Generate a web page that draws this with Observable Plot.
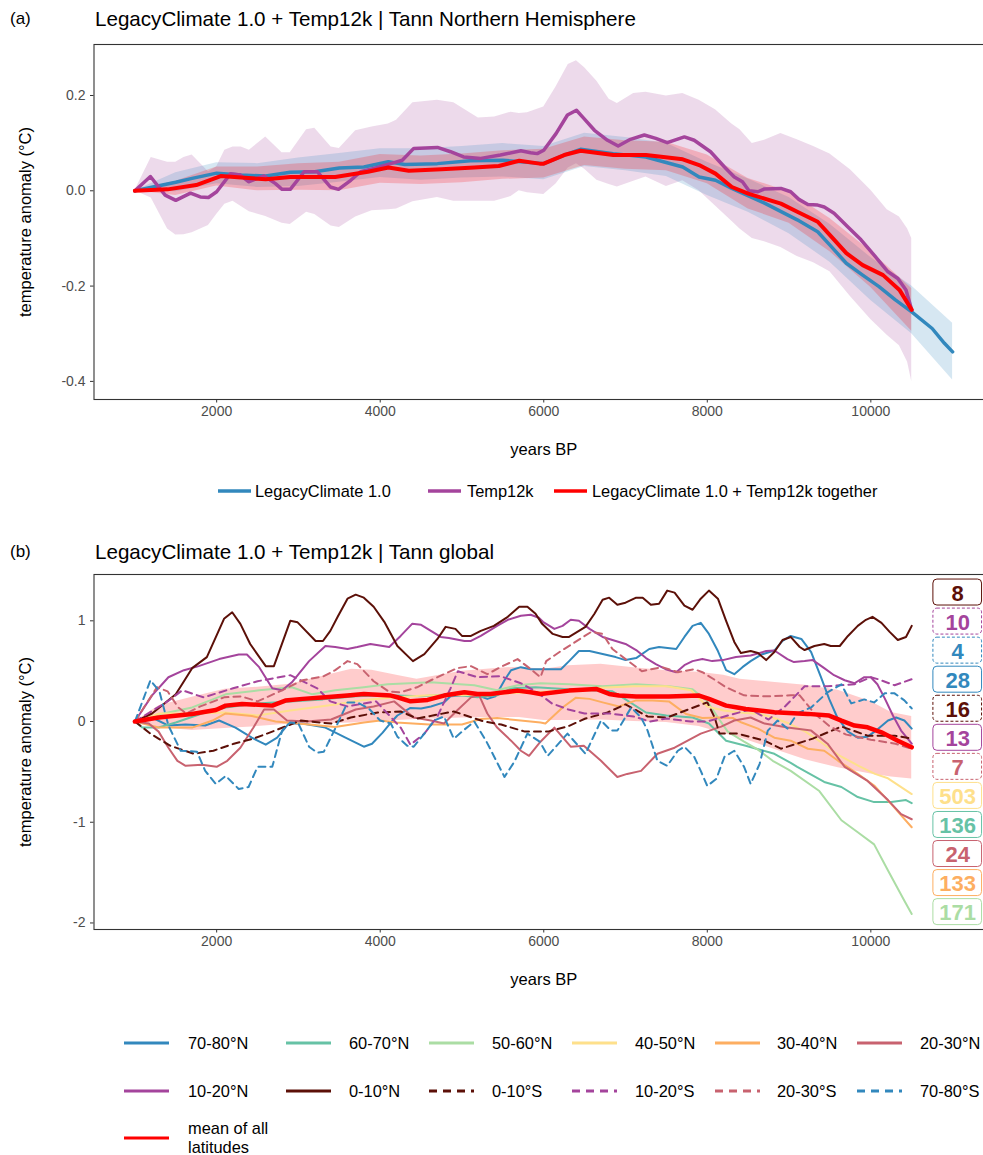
<!DOCTYPE html>
<html><head><meta charset="utf-8">
<script src="https://cdn.jsdelivr.net/npm/d3@7"></script>
<script src="https://cdn.jsdelivr.net/npm/@observablehq/plot@0.6"></script>
<style>
body{margin:0;background:#fff;}
#fig{position:relative;width:983px;height:1155px;overflow:hidden;font-family:"Liberation Sans",Arial,sans-serif;color:#000;background:#fff;}
.abs{position:absolute;white-space:nowrap;line-height:1;}
.tag{font-size:17px;}
.title{font-size:20.6px;}
.lt{font-size:16.4px;color:#000;}
svg.sw{position:absolute;overflow:visible;}
</style></head><body><div id="fig"></div>
<script>
// ---------------- Panel (a) data ----------------
const legacyLine = [[1000,0],[1500,0.018],[1700,0.026],[2000,0.037],[2300,0.033],[2600,0.031],[2900,0.039],[3200,0.04],[3500,0.048],[3800,0.05],[4100,0.061],[4300,0.055],[4700,0.057],[5100,0.063],[5500,0.064],[6000,0.057],[6250,0.075],[6450,0.087],[6850,0.078],[7250,0.071],[7700,0.05],[7900,0.029],[8100,0.022],[8300,0.005],[8700,-0.026],[9100,-0.061],[9350,-0.086],[9500,-0.114],[9700,-0.152],[9900,-0.177],[10100,-0.201],[10300,-0.229],[10500,-0.254],[10750,-0.289],[10900,-0.32],[11000,-0.338]];
const legacyBandYears = [1000,1500,2000,2500,3000,3500,4000,4500,5000,5500,6000,6500,7000,7500,8000,8500,9000,9500,10000,10500,11000];
const legacyBandLow = [0,-0.002,0.015,0.007,0.009,0.018,0.028,0.022,0.027,0.029,0.023,0.051,0.042,0.03,-0.01,-0.045,-0.09,-0.15,-0.23,-0.3,-0.397];
const legacyBandHigh = [0,0.038,0.059,0.057,0.069,0.078,0.088,0.088,0.093,0.099,0.093,0.121,0.112,0.1,0.06,0.025,-0.014,-0.07,-0.14,-0.2,-0.278];

const temp12kLine = [[1000,0],[1190,0.03],[1370,-0.009],[1500,-0.02],[1680,-0.005],[1800,-0.013],[1900,-0.014],[2000,-0.002],[2170,0.036],[2290,0.033],[2390,0.019],[2580,0.031],[2720,0.015],[2800,0.003],[2900,0.003],[3070,0.04],[3230,0.04],[3390,0.008],[3490,0.003],[3640,0.022],[3760,0.04],[3920,0.047],[4130,0.057],[4270,0.064],[4410,0.089],[4700,0.091],[4860,0.082],[5020,0.071],[5230,0.068],[5470,0.075],[5720,0.084],[5840,0.08],[5920,0.078],[6000,0.085],[6150,0.12],[6290,0.159],[6400,0.169],[6490,0.152],[6620,0.127],[6780,0.106],[6910,0.094],[7060,0.108],[7230,0.117],[7370,0.11],[7510,0.101],[7720,0.113],[7840,0.106],[8040,0.082],[8210,0.05],[8330,0.029],[8430,0.019],[8510,0.0],[8620,-0.002],[8700,0.004],[8900,0.005],[9020,-0.002],[9120,-0.018],[9230,-0.029],[9350,-0.03],[9430,-0.034],[9550,-0.047],[9720,-0.076],[9880,-0.103],[10040,-0.135],[10210,-0.17],[10330,-0.184],[10430,-0.208],[10500,-0.25]];
const temp12kBandYears = [1000,1200,1400,1500,1600,1700,1900,2000,2100,2200,2300,2400,2600,2800,2900,3100,3200,3400,3500,3700,3900,4100,4200,4400,4700,4900,5200,5400,5600,5700,5800,6000,6150,6300,6400,6500,6650,6800,6900,7100,7250,7500,7700,7900,8100,8300,8400,8550,8700,8900,9100,9300,9500,9750,10000,10200,10350,10450,10500];
const temp12kBandHigh = [0,0.07,0.06,0.06,0.07,0.075,0.04,0.05,0.085,0.092,0.092,0.085,0.113,0.08,0.08,0.128,0.131,0.092,0.089,0.126,0.134,0.14,0.148,0.185,0.19,0.185,0.153,0.155,0.165,0.162,0.164,0.176,0.218,0.265,0.273,0.258,0.23,0.192,0.183,0.204,0.207,0.199,0.204,0.19,0.17,0.14,0.128,0.099,0.106,0.12,0.107,0.093,0.077,0.044,0.001,-0.04,-0.055,-0.08,-0.1];
const temp12kBandLow = [0,-0.015,-0.08,-0.093,-0.092,-0.088,-0.073,-0.05,-0.028,-0.022,-0.033,-0.044,-0.054,-0.068,-0.071,-0.045,-0.05,-0.074,-0.077,-0.055,-0.042,-0.04,-0.038,-0.023,-0.014,-0.022,-0.022,-0.022,-0.012,0,-0.004,-0.008,0.014,0.048,0.057,0.045,0.022,0.013,0.008,0.02,0.029,0.009,0.021,0.0,-0.032,-0.064,-0.08,-0.1,-0.107,-0.119,-0.138,-0.151,-0.17,-0.222,-0.27,-0.303,-0.325,-0.36,-0.4];

const togetherLine = [[1000,0],[1400,0.003],[1750,0.012],[2050,0.031],[2300,0.028],[2600,0.024],[2900,0.029],[3450,0.029],[3850,0.04],[4100,0.049],[4350,0.042],[4750,0.045],[5150,0.049],[5450,0.052],[5700,0.063],[5950,0.057],[6000,0.057],[6250,0.075],[6450,0.084],[6850,0.075],[7250,0.075],[7700,0.066],[7900,0.054],[8100,0.036],[8300,0.008],[8500,-0.006],[8900,-0.027],[9100,-0.044],[9350,-0.065],[9500,-0.093],[9700,-0.131],[9900,-0.156],[10150,-0.177],[10350,-0.208],[10500,-0.25]];
const togetherBandYears = [1000,1500,2000,2500,3000,3500,4000,4500,5000,5500,6000,6500,7000,7500,8000,8500,9000,9500,10000,10500];
const togetherBandLow = [0,-0.01,0.01,0.0,0.001,0.0,0.016,0.013,0.017,0.024,0.027,0.053,0.045,0.042,0.015,-0.038,-0.068,-0.128,-0.203,-0.295];
const togetherBandHigh = [0,0.02,0.05,0.05,0.057,0.06,0.076,0.073,0.077,0.084,0.087,0.113,0.105,0.102,0.075,0.026,-0.002,-0.058,-0.127,-0.205];

const seriesA = ["LegacyClimate 1.0", "Temp12k", "LegacyClimate 1.0 + Temp12k together"];
const colorsA = ["#3288bd", "#a4449c", "#ff0000"];

// ---------------- Panel (b) data ----------------
const regions = ["70-80°N","60-70°N","50-60°N","40-50°N","30-40°N","20-30°N","10-20°N","0-10°N","0-10°S","10-20°S","20-30°S","70-80°S"];
const regionColors = ["#3288bd","#66c2a5","#abdda4","#fee08b","#fdae61","#c8626f","#a4449c","#5c1008","#5c1008","#a4449c","#c8626f","#3288bd"];
const regionDashed = [false,false,false,false,false,false,false,false,true,true,true,true];
const regionCounts = [28,136,171,503,133,24,13,8,16,10,7,4];

const lat7080N = [[1000,0],[1210,0.04],[1410,-0.04],[1620,-0.03],[1860,-0.04],[2030,0.01],[2230,-0.06],[2430,-0.16],[2600,-0.23],[2740,-0.16],[2880,-0.02],[3050,-0.02],[3330,-0.06],[3600,-0.17],[3800,-0.25],[3900,-0.22],[4030,-0.11],[4130,-0.01],[4210,0.06],[4370,0.135],[4500,0.13],[4620,0.15],[4780,0.19],[4860,0.25],[5030,0.26],[5190,0.26],[5310,0.225],[5410,0.25],[5520,0.41],[5600,0.51],[5720,0.54],[5840,0.52],[6070,0.52],[6210,0.52],[6310,0.6],[6430,0.7],[6560,0.7],[6720,0.67],[6880,0.64],[7000,0.61],[7130,0.63],[7290,0.72],[7410,0.74],[7620,0.72],[7720,0.84],[7820,0.95],[7920,0.98],[8020,0.87],[8130,0.7],[8230,0.51],[8330,0.47],[8430,0.54],[8530,0.6],[8660,0.665],[8820,0.705],[8920,0.8],[9020,0.85],[9150,0.82],[9270,0.69],[9390,0.44],[9490,0.225],[9590,0.04],[9720,-0.1],[9840,-0.16],[9960,-0.15],[10080,-0.08],[10210,0.01],[10310,0.04],[10410,0.01],[10500,-0.07]];
const lat6070N = [[1000,0],[1090,-0.06],[1290,-0.06],[1500,-0.01],[1820,0.08],[2110,0.14],[2500,0.18],[2900,0.2],[3300,0.22],[3700,0.25],[4100,0.26],[4500,0.25],[4860,0.27],[5190,0.24],[5430,0.26],[5600,0.33],[5900,0.34],[6300,0.32],[6840,0.3],[7000,0.22],[7250,0.09],[7500,0.06],[7820,0.04],[8020,-0.02],[8230,-0.19],[8470,-0.24],[8820,-0.32],[9020,-0.41],[9100,-0.45],[9430,-0.6],[9640,-0.65],[9840,-0.75],[10040,-0.8],[10250,-0.8],[10430,-0.78],[10500,-0.81]];
const lat5060N = [[1000,0],[1290,0.07],[1700,0.14],[2110,0.27],[2520,0.31],[2920,0.34],[3170,0.27],[3450,0.31],[3800,0.34],[4090,0.37],[4620,0.39],[5150,0.36],[5430,0.31],[5680,0.36],[5960,0.38],[6310,0.37],[6720,0.35],[7130,0.37],[7530,0.35],[7820,0.32],[8000,0.2],[8130,0.04],[8250,-0.1],[8450,-0.2],[8620,-0.28],[8800,-0.39],[9020,-0.49],[9370,-0.69],[9640,-0.98],[9840,-1.1],[10040,-1.22],[10210,-1.48],[10410,-1.78],[10500,-1.91]];
const lat4050N = [[1000,0],[1300,0.08],[1700,0.08],[2100,0.09],[2500,0.06],[2900,0.11],[3450,0.17],[3800,0.215],[4200,0.24],[4600,0.26],[5000,0.26],[5400,0.275],[5900,0.29],[6300,0.31],[6700,0.335],[7100,0.35],[7500,0.35],[7800,0.31],[8000,0.15],[8200,0.11],[8400,0.09],[8650,0.075],[8800,0.04],[9000,-0.02],[9200,-0.1],[9400,-0.21],[9600,-0.33],[9850,-0.44],[10050,-0.52],[10200,-0.56],[10500,-0.72]];
const lat3040N = [[1000,0],[1290,-0.06],[1700,-0.06],[1950,0.01],[2110,0.08],[2430,0.055],[2720,0.0],[3130,-0.03],[3450,-0.055],[3800,-0.01],[4000,0.01],[4200,-0.01],[4600,-0.03],[5000,-0.03],[5230,0.025],[5430,0.035],[5960,-0.01],[6020,-0.02],[6230,0.14],[6390,0.235],[6560,0.225],[6720,0.19],[6920,0.15],[7130,0.21],[7330,0.21],[7530,0.2],[7740,0.075],[7940,0.035],[8150,0.04],[8310,0.035],[8420,-0.01],[8620,-0.07],[8820,-0.16],[9020,-0.19],[9230,-0.27],[9430,-0.29],[9600,-0.39],[9840,-0.52],[10040,-0.635],[10250,-0.82],[10500,-1.05]];
const lat2030N = [[1000,0],[1170,-0.02],[1290,-0.1],[1410,-0.26],[1520,-0.39],[1620,-0.44],[1820,-0.43],[2000,-0.45],[2130,-0.39],[2290,-0.26],[2450,-0.06],[2580,0.12],[2700,0.12],[2860,0.01],[3100,0.0],[3400,0.02],[3700,0.12],[3920,0.15],[4170,0.2],[4410,0.04],[4620,0.01],[4780,-0.02],[4940,0.11],[5110,0.24],[5210,0.26],[5310,0.08],[5430,-0.06],[5600,-0.19],[5720,-0.29],[5820,-0.34],[5960,-0.2],[6130,-0.06],[6330,-0.25],[6490,-0.24],[6700,-0.39],[6900,-0.55],[7020,-0.52],[7190,-0.49],[7390,-0.32],[7600,-0.26],[7760,-0.19],[7920,-0.12],[8170,-0.05],[8330,0.01],[8530,0.04],[8700,-0.02],[8980,-0.06],[9270,-0.09],[9470,-0.22],[9680,-0.45],[9960,-0.59],[10210,-0.78],[10370,-0.92],[10500,-0.97]];
const lat1020N = [[1000,0],[1210,0.26],[1410,0.44],[1600,0.51],[1780,0.55],[2030,0.62],[2270,0.665],[2370,0.665],[2520,0.54],[2680,0.33],[2800,0.31],[2920,0.39],[3130,0.6],[3330,0.75],[3450,0.74],[3600,0.72],[3720,0.74],[3880,0.77],[4110,0.74],[4250,0.85],[4390,0.97],[4500,0.96],[4620,0.9],[4740,0.84],[4840,0.83],[5030,0.8],[5110,0.8],[5230,0.85],[5430,0.95],[5560,1.01],[5720,1.05],[5840,1.06],[5940,1.03],[5990,0.99],[6130,0.92],[6230,0.95],[6330,1.01],[6430,1.0],[6560,0.92],[6720,0.84],[6880,0.8],[7000,0.77],[7130,0.71],[7250,0.63],[7370,0.57],[7490,0.52],[7620,0.49],[7720,0.56],[7820,0.6],[7940,0.62],[8060,0.6],[8190,0.61],[8350,0.64],[8530,0.655],[8720,0.7],[8820,0.705],[8980,0.62],[9060,0.59],[9190,0.6],[9290,0.61],[9430,0.53],[9550,0.46],[9680,0.41],[9800,0.38],[9920,0.44],[10000,0.44],[10080,0.37],[10170,0.23],[10270,0.06],[10370,-0.09],[10450,-0.17],[10500,-0.22]];
const lat010N = [[1000,0],[1210,0.08],[1500,0.27],[1700,0.53],[1880,0.64],[2090,1.02],[2190,1.085],[2290,0.97],[2410,0.77],[2600,0.55],[2700,0.55],[2900,1.0],[2990,0.985],[3210,0.8],[3300,0.8],[3390,0.9],[3480,1.04],[3600,1.22],[3700,1.26],[3800,1.23],[3920,1.14],[4050,0.99],[4210,0.75],[4400,0.6],[4540,0.67],[4700,0.82],[4800,0.94],[4920,0.92],[5000,0.85],[5110,0.85],[5230,0.9],[5390,0.95],[5560,1.04],[5700,1.14],[5800,1.14],[5900,1.07],[5980,0.97],[6110,0.87],[6230,0.84],[6310,0.84],[6510,0.94],[6620,1.07],[6720,1.21],[6800,1.23],[6900,1.16],[7000,1.18],[7130,1.23],[7210,1.23],[7310,1.16],[7410,1.17],[7510,1.3],[7600,1.28],[7720,1.15],[7820,1.11],[7920,1.22],[8020,1.3],[8130,1.22],[8230,1.0],[8330,0.79],[8410,0.68],[8530,0.7],[8620,0.68],[8720,0.61],[8820,0.69],[8920,0.81],[9020,0.84],[9130,0.74],[9190,0.71],[9310,0.75],[9430,0.77],[9510,0.75],[9620,0.75],[9720,0.85],[9840,0.95],[9940,1.01],[10020,1.04],[10130,0.98],[10230,0.89],[10330,0.81],[10430,0.84],[10500,0.95]];
const lat010S = [[1000,0],[1190,-0.12],[1430,-0.24],[1720,-0.32],[1960,-0.29],[2210,-0.22],[2450,-0.17],[2680,-0.1],[3030,0.01],[3400,-0.02],[3640,0.04],[3970,0.09],[4250,0.1],[4450,0.03],[4900,0.1],[5270,0.0],[5480,-0.03],[5770,-0.1],[6050,-0.1],[6290,-0.05],[6510,0.03],[6780,0.09],[7000,0.17],[7270,0.05],[7510,0.04],[7800,0.13],[8000,0.19],[8090,0.04],[8150,-0.12],[8370,-0.12],[8700,-0.19],[8900,-0.27],[9290,-0.17],[9640,-0.05],[9960,-0.14],[10290,-0.14],[10500,-0.17]];
const lat1020S = [[1000,0],[1200,0.1],[1400,0.2],[1580,0.31],[1840,0.24],[2200,0.33],[2500,0.4],[2900,0.46],[3230,0.33],[3390,0.2],[3600,0.15],[3950,0.2],[4250,-0.06],[4370,-0.23],[4540,-0.12],[4700,0.05],[4860,0.33],[4950,0.5],[5190,0.44],[5470,0.45],[5720,0.38],[5900,0.3],[6100,0.18],[6300,0.12],[6500,0.08],[6800,0.08],[7100,0.05],[7300,0.0],[7500,0.03],[7800,0.0],[8000,0.0],[8250,0.06],[8530,0.12],[8750,0.02],[8950,0.15],[9190,0.35],[9470,0.35],[9800,0.37],[10000,0.44],[10090,0.42],[10290,0.36],[10500,0.42]];
const lat2030S = [[1000,0],[1270,0.34],[1400,0.3],[1530,0.14],[1630,0.08],[1800,0.15],[2090,0.24],[2300,0.25],[2500,0.2],[2800,0.31],[3050,0.41],[3310,0.45],[3450,0.51],[3600,0.6],[3720,0.57],[3920,0.4],[4100,0.3],[4250,0.29],[4450,0.34],[4620,0.41],[4940,0.53],[5110,0.55],[5310,0.47],[5470,0.54],[5680,0.62],[5840,0.52],[5960,0.44],[6030,0.6],[6210,0.7],[6580,0.89],[6720,0.87],[6840,0.72],[7000,0.62],[7200,0.5],[7450,0.54],[7640,0.49],[7840,0.52],[7940,0.49],[8100,0.41],[8230,0.34],[8450,0.26],[8740,0.25],[9020,0.26],[9130,0.26],[9310,0.08],[9500,-0.05],[9700,-0.13],[10000,-0.18],[10300,-0.22],[10500,-0.27]];
const lat7080S = [[1000,0],[1190,0.41],[1300,0.3],[1410,-0.04],[1560,-0.29],[1760,-0.3],[1860,-0.49],[1990,-0.62],[2110,-0.54],[2270,-0.67],[2390,-0.65],[2500,-0.45],[2680,-0.45],[2800,-0.09],[2900,-0.01],[3000,-0.02],[3130,-0.25],[3230,-0.31],[3310,-0.3],[3450,-0.07],[3600,0.19],[3720,0.19],[3860,0.13],[4000,0.01],[4130,-0.02],[4210,-0.15],[4330,-0.24],[4410,-0.25],[4540,-0.12],[4660,0.01],[4780,0.05],[4900,-0.17],[5030,-0.08],[5150,0.0],[5300,-0.2],[5520,-0.55],[5640,-0.4],[5800,-0.12],[5950,-0.2],[6050,-0.34],[6290,-0.12],[6510,-0.32],[6700,0.01],[6820,-0.09],[6900,-0.09],[7070,0.14],[7190,0.04],[7270,-0.09],[7390,-0.39],[7510,-0.44],[7640,-0.29],[7720,-0.25],[7840,-0.35],[7920,-0.49],[8000,-0.64],[8110,-0.57],[8210,-0.35],[8330,-0.29],[8450,-0.45],[8530,-0.62],[8640,-0.42],[8740,-0.09],[8860,0.01],[8980,-0.07],[9100,0.08],[9270,0.14],[9470,0.29],[9640,0.37],[9760,0.18],[9920,0.22],[10040,0.19],[10170,0.28],[10290,0.28],[10410,0.21],[10500,0.13]];
const regionSeries = [lat7080N,lat6070N,lat5060N,lat4050N,lat3040N,lat2030N,lat1020N,lat010N,lat010S,lat1020S,lat2030S,lat7080S];

const meanLine = [[1000,0],[1290,0.04],[1700,0.075],[1990,0.115],[2110,0.158],[2310,0.175],[2680,0.158],[2840,0.208],[3050,0.225],[3330,0.24],[3600,0.258],[3800,0.274],[4130,0.258],[4210,0.241],[4370,0.201],[4580,0.215],[4780,0.258],[5030,0.29],[5190,0.274],[5350,0.274],[5520,0.29],[5680,0.307],[5840,0.29],[5960,0.274],[6310,0.307],[6640,0.324],[6800,0.274],[6920,0.258],[7130,0.248],[7530,0.248],[7900,0.258],[8020,0.225],[8230,0.158],[8350,0.142],[8470,0.125],[8820,0.092],[9230,0.076],[9490,0.059],[9640,0.009],[9800,-0.04],[9960,-0.057],[10130,-0.107],[10330,-0.19],[10500,-0.256]];
const meanBandYears = [1000,1300,1700,2100,2500,2900,3400,3650,3900,4200,4450,5000,5450,5700,6000,6300,6700,7100,7500,7900,8200,8400,8800,9200,9600,10000,10250,10500];
const meanBandHigh = [0,0.16,0.24,0.32,0.34,0.37,0.47,0.52,0.51,0.46,0.42,0.5,0.53,0.54,0.52,0.555,0.57,0.535,0.505,0.49,0.46,0.42,0.39,0.36,0.31,0.2,0.09,0.05];
const meanBandLow = [0,-0.06,-0.09,-0.07,-0.05,-0.025,-0.02,-0.015,0.0,0.01,0.02,0.035,0.04,0.04,0.01,0.01,0.015,0.0,-0.01,-0.05,-0.12,-0.16,-0.27,-0.38,-0.46,-0.52,-0.55,-0.57];

const xTicks = [2000,4000,6000,8000,10000];
const yTicksA = [-0.4,-0.2,0,0.2];
const yTicksB = [-2,-1,0,1];

// ---------------- helpers ----------------
const toRows = (pairs, key) => pairs.map(([x, y]) => ({key, x, y}));
const bandRows = (years, lo, hi) => years.map((x, i) => ({x, lo: lo[i], hi: hi[i]}));
const FONT = '"Liberation Sans", Arial, sans-serif';

function panel(yDomain, yTicks, fmt, marks) {
  const svg = Plot.plot({
    width: 993, height: 424,
    marginLeft: 93.5, marginRight: 0, marginTop: 4, marginBottom: 65,
    x: {domain: [500, 11500]},
    y: {domain: yDomain},
    color: {type: "identity"},
    style: {fontFamily: FONT, fontSize: "14px", color: "#4d4d4d", background: "transparent", overflow: "visible"},
    marks: [
      ...marks,
      Plot.frame({stroke: "#333333", strokeWidth: 1.1}),
      Plot.axisX({ticks: xTicks, tickFormat: d3.format("d"), tickSize: 3.5, tickPadding: 3, label: null, stroke: "#333333", fill: "#4d4d4d", fontSize: 14}),
      Plot.axisY({ticks: yTicks, tickFormat: fmt, tickSize: 3.5, tickPadding: 5, label: null, stroke: "#333333", fill: "#4d4d4d", fontSize: 14}),
      Plot.text(["years BP"], {frameAnchor: "bottom", dy: 55, fill: "black", fontSize: 16.5, textAnchor: "middle"}),
      Plot.text(["temperature anomaly (°C)"], {frameAnchor: "left", dx: -68.5, rotate: -90, fill: "black", fontSize: 16.5, textAnchor: "middle", lineAnchor: "middle"})
    ]
  });
  svg.style.maxWidth = "none";
  svg.style.width = "993px";
  svg.style.height = "424px";
  svg.style.position = "absolute";
  svg.style.left = "0px";
  return svg;
}

const fig = document.getElementById("fig");
function addText(txt, left, top, cls) {
  const d = document.createElement("div");
  d.className = "abs " + cls; d.textContent = txt;
  d.style.left = left + "px"; d.style.top = top + "px";
  fig.appendChild(d); return d;
}
function addSwatch(left, cy, w, color, width, dash) {
  const ns = "http://www.w3.org/2000/svg";
  const s = document.createElementNS(ns, "svg");
  s.setAttribute("class", "sw"); s.setAttribute("width", w); s.setAttribute("height", 10);
  s.style.left = left + "px"; s.style.top = (cy - 5) + "px";
  const l = document.createElementNS(ns, "line");
  l.setAttribute("x1", 0); l.setAttribute("x2", w); l.setAttribute("y1", 5); l.setAttribute("y2", 5);
  l.setAttribute("stroke", color); l.setAttribute("stroke-width", width);
  if (dash) l.setAttribute("stroke-dasharray", dash);
  s.appendChild(l); fig.appendChild(s);
}

// ---------------- Panel (a) ----------------
addText("(a)", 10, 10, "tag");
addText("LegacyClimate 1.0 + Temp12k | Tann Northern Hemisphere", 95, 9, "title");

const plotA = panel([-0.438, 0.307], yTicksA, d => d.toFixed(1), [
  Plot.areaY(bandRows(temp12kBandYears, temp12kBandLow, temp12kBandHigh), {x: "x", y1: "lo", y2: "hi", fill: colorsA[1], fillOpacity: 0.2}),
  Plot.areaY(bandRows(legacyBandYears, legacyBandLow, legacyBandHigh), {x: "x", y1: "lo", y2: "hi", fill: colorsA[0], fillOpacity: 0.2}),
  Plot.areaY(bandRows(togetherBandYears, togetherBandLow, togetherBandHigh), {x: "x", y1: "lo", y2: "hi", fill: colorsA[2], fillOpacity: 0.2}),
  Plot.line(toRows(legacyLine, seriesA[0]), {x: "x", y: "y", stroke: colorsA[0], strokeWidth: 3.5}),
  Plot.line(toRows(temp12kLine, seriesA[1]), {x: "x", y: "y", stroke: colorsA[1], strokeWidth: 3.5}),
  Plot.line(toRows(togetherLine, seriesA[2]), {x: "x", y: "y", stroke: colorsA[2], strokeWidth: 4})
]);
plotA.style.top = "40px";
fig.appendChild(plotA);

const legA = [[218, 255], [428, 467], [554, 592]];
seriesA.forEach((s, i) => {
  addSwatch(legA[i][0], 491, 33, colorsA[i], 3.5, null);
  addText(s, legA[i][1], 483, "lt");
});

// ---------------- Panel (b) ----------------
addText("(b)", 10, 543, "tag");
addText("LegacyClimate 1.0 + Temp12k | Tann global", 95, 542, "title");

const regionRows = regions.flatMap((r, i) => toRows(regionSeries[i], r).map(d => ({...d, color: regionColors[i], dashed: regionDashed[i]})));
const lastVals = regions.map((r, i) => ({r, i, last: regionSeries[i][regionSeries[i].length - 1][1]}));
lastVals.sort((a, b) => b.last - a.last);
const labelTop = 1.281, labelPitch = 0.2885, labelHalf = 0.129;
const labelRows = lastVals.map((d, k) => {
  const c = labelTop - k * labelPitch;
  return {label: String(regionCounts[d.i]), color: regionColors[d.i], dashed: regionDashed[d.i], x1: 10765, x2: 11360, xc: 11062, y: c, y1: c - labelHalf, y2: c + labelHalf};
});

const plotB = panel([-2.065, 1.46], yTicksB, d => String(d), [
  Plot.areaY(bandRows(meanBandYears, meanBandLow, meanBandHigh), {x: "x", y1: "lo", y2: "hi", fill: "#ff0000", fillOpacity: 0.2}),
  Plot.line(regionRows.filter(d => !d.dashed), {x: "x", y: "y", z: "key", stroke: "color", strokeWidth: 2}),
  Plot.line(regionRows.filter(d => d.dashed), {x: "x", y: "y", z: "key", stroke: "color", strokeWidth: 2, strokeDasharray: "7,5"}),
  Plot.line(toRows(meanLine, "mean"), {x: "x", y: "y", stroke: "#ff0000", strokeWidth: 4.5}),
  Plot.rect(labelRows.filter(d => !d.dashed), {x1: "x1", x2: "x2", y1: "y1", y2: "y2", fill: "white", stroke: "color", strokeWidth: 1, rx: 4}),
  Plot.rect(labelRows.filter(d => d.dashed), {x1: "x1", x2: "x2", y1: "y1", y2: "y2", fill: "white", stroke: "color", strokeWidth: 1, rx: 4, strokeDasharray: "3,2"}),
  Plot.text(labelRows, {x: "xc", y: "y", text: "label", fill: "color", fontSize: 22, fontWeight: "bold", dy: 1})
]);
plotB.style.top = "570px";
fig.appendChild(plotB);

const colSw = [124, 286, 429, 572, 715, 857];
const colTx = [188, 349, 492, 635, 777, 920];
const rowY = [1043, 1091];
regions.forEach((r, i) => {
  const row = Math.floor(i / 6), col = i % 6;
  addSwatch(colSw[col], rowY[row], 45, regionColors[i], 3, regionDashed[i] ? "8,6" : null);
  addText(r, colTx[col], rowY[row] - 8, "lt");
});
addSwatch(124, 1138, 45, "#ff0000", 3, null);
addText("mean of all", 188, 1120, "lt");
addText("latitudes", 188, 1139, "lt");
</script></body></html>
